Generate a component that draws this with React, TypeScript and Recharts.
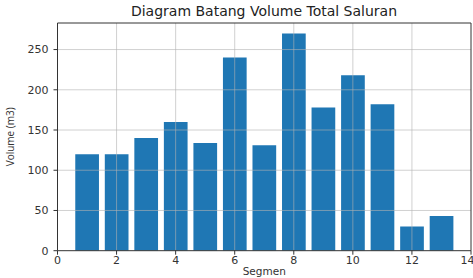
import React from 'react';
import { BarChart, Bar, XAxis, YAxis, ReferenceLine } from 'recharts';

const segments = [1, 2, 3, 4, 5, 6, 7, 8, 9, 10, 11, 12, 13];
const volumes = [120, 120, 140, 160, 134, 240, 131, 270, 178, 218, 182, 30, 43];
const xTicks = [0, 2, 4, 6, 8, 10, 12, 14];
const yTicks = [0, 50, 100, 150, 200, 250];

const data = segments.map((s, i) => ({ seg: s, vol: volumes[i] }));

const FONT = '"DejaVu Sans", sans-serif';
const tickStyle = { fontSize: 11, fill: '#333', fontFamily: FONT };

export default function App() {
  return (
    <div style={{ position: 'absolute', left: 0, top: 0, width: 473, height: 278, background: '#fff', fontFamily: FONT }}>
      <div style={{ position: 'absolute', left: 0, width: 528, top: 3, textAlign: 'center', fontSize: 14, color: '#222', whiteSpace: 'nowrap' }}>
        Diagram Batang Volume Total Saluran
      </div>
      <BarChart width={473} height={278} data={data} margin={{ top: 23, right: 2, bottom: 0, left: 0 }}>
        <XAxis
          type="number"
          dataKey="seg"
          domain={[0, 14]}
          ticks={xTicks}
          allowDataOverflow
          height={27.3}
          tick={tickStyle}
          tickSize={4}
          tickMargin={1}
          stroke="#333"
          label={{ value: 'Segmen', position: 'insideBottom', offset: 3, style: { fontSize: 10.5, fill: '#333', fontFamily: FONT } }}
        />
        <YAxis
          type="number"
          domain={[0, 283]}
          ticks={yTicks}
          allowDataOverflow
          width={57.5}
          tick={tickStyle}
          tickSize={4}
          tickMargin={5}
          stroke="#333"
          label={{ value: 'Volume (m3)', angle: -90, position: 'insideLeft', offset: 10, style: { fontSize: 10, fill: '#333', fontFamily: '"Open Sans", sans-serif', textAnchor: 'middle' } }}
        />
        <Bar dataKey="vol" fill="#1f77b4" barSize={23.7} isAnimationActive={false} />
        {xTicks.slice(1, -1).map((v) => (
          <ReferenceLine key={'gx' + v} x={v} stroke="#b0b0b0" strokeOpacity={0.6} strokeWidth={1} />
        ))}
        {yTicks.slice(1).map((v) => (
          <ReferenceLine key={'gy' + v} y={v} stroke="#b0b0b0" strokeOpacity={0.6} strokeWidth={1} />
        ))}
        <ReferenceLine x={14} stroke="#333" strokeWidth={1} />
        <ReferenceLine y={283} stroke="#333" strokeWidth={1} />
      </BarChart>
    </div>
  );
}
